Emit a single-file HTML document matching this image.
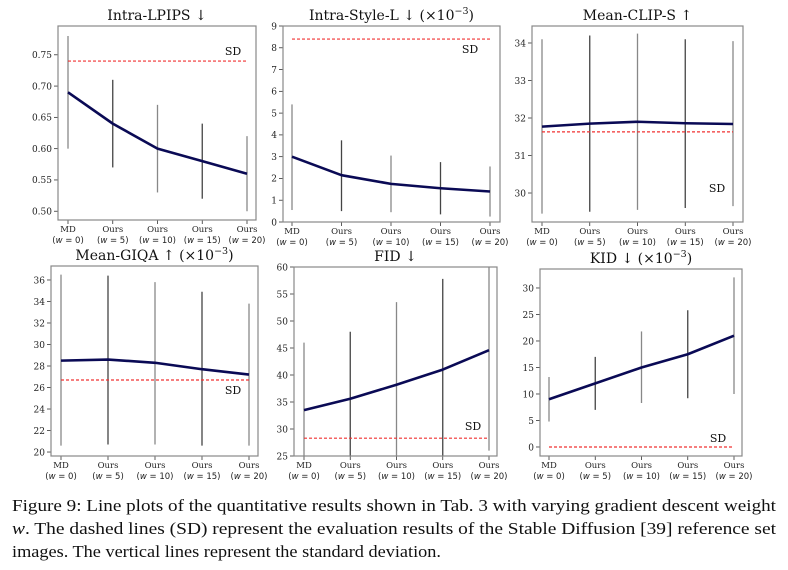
<!DOCTYPE html>
<html><head><meta charset="utf-8">
<style>
body{margin:0;background:#fff;width:788px;height:570px;overflow:hidden}
svg{display:block}
.t{font-family:"DejaVu Serif","Liberation Serif",serif;fill:#111}
.tk{font-family:"DejaVu Serif","Liberation Serif",serif;font-size:9px;fill:#222}
.xl{font-family:"DejaVu Serif","Liberation Serif",serif;font-size:8.5px;fill:#222}
.xw{font-family:"DejaVu Sans","Liberation Sans",sans-serif;font-size:8.5px;fill:#222}
.cap{font-family:"Liberation Serif",serif;font-size:17px;fill:#111}
</style></head>
<body>
<svg id="fig" width="788" height="570">
<text class="cap" x="12" y="511" textLength="764" lengthAdjust="spacingAndGlyphs">Figure 9: Line plots of the quantitative results shown in Tab. 3 with varying gradient descent weight</text>
<text class="cap" x="12" y="534" textLength="764" lengthAdjust="spacingAndGlyphs"><tspan font-style="italic">w</tspan>. The dashed lines (SD) represent the evaluation results of the Stable Diffusion [39] reference set</text>
<text class="cap" x="12" y="557" textLength="429" lengthAdjust="spacingAndGlyphs">images. The vertical lines represent the standard deviation.</text>
</svg>
<script>
const categories = ["MD","Ours","Ours","Ours","Ours"];
const weights = [0,5,10,15,20];

const lpipsVals = [0.69,0.64,0.60,0.58,0.56];
const lpipsLo = [0.60,0.57,0.53,0.52,0.50];
const lpipsHi = [0.78,0.71,0.67,0.64,0.62];
const lpipsSD = 0.74;
const lpipsTicks = [0.50,0.55,0.60,0.65,0.70,0.75];

const styleVals = [3.0,2.15,1.75,1.55,1.4];
const styleLo = [0.55,0.5,0.45,0.35,0.25];
const styleHi = [5.4,3.75,3.05,2.75,2.55];
const styleSD = 8.4;
const styleTicks = [0,1,2,3,4,5,6,7,8,9];

const clipVals = [31.77,31.85,31.9,31.86,31.84];
const clipLo = [29.45,29.5,29.55,29.6,29.65];
const clipHi = [34.1,34.2,34.25,34.1,34.05];
const clipSD = 31.63;
const clipTicks = [30,31,32,33,34];

const giqaVals = [28.5,28.6,28.3,27.7,27.2];
const giqaLo = [20.6,20.7,20.7,20.6,20.6];
const giqaHi = [36.5,36.4,35.8,34.9,33.8];
const giqaSD = 26.7;
const giqaTicks = [20,22,24,26,28,30,32,34,36];

const fidVals = [33.5,35.6,38.2,41.0,44.6];
const fidLo = [22,23,23,24,26];
const fidHi = [46,48,53.5,57.8,66];
const fidSD = 28.3;
const fidTicks = [25,30,35,40,45,50,55,60];

const kidVals = [9,12,15,17.5,21];
const kidLo = [4.8,7,8.3,9.2,10];
const kidHi = [13.2,17,21.8,25.8,32];
const kidSD = 0;
const kidTicks = [0,5,10,15,20,25,30];

const NS="http://www.w3.org/2000/svg";
const svg=document.getElementById('fig');
function mk(tag,attrs,parent){const e=document.createElementNS(NS,tag);for(const k in attrs)e.setAttribute(k,attrs[k]);(parent||svg).appendChild(e);return e;}

const panels=[
 {key:"intra-lpips",title:"Intra-LPIPS ↓",sup:"",box:[58,26,256,220],px:[68,247],dom:[0.486,0.796],vals:lpipsVals,lo:lpipsLo,hi:lpipsHi,sd:lpipsSD,ticks:lpipsTicks,fmt:v=>v.toFixed(2),sdl:[-14,-6]},
 {key:"intra-style-l",title:"Intra-Style-L ↓ (×10",sup:"−3",box:[283,26,500,222],px:[292,490],dom:[0,9],vals:styleVals,lo:styleLo,hi:styleHi,sd:styleSD,ticks:styleTicks,fmt:v=>String(v),sdl:[-20,14]},
 {key:"mean-clip-s",title:"Mean-CLIP-S ↑",sup:"",box:[532,26,743,222],px:[542,733],dom:[29.227,34.453],vals:clipVals,lo:clipLo,hi:clipHi,sd:clipSD,ticks:clipTicks,fmt:v=>String(v),sdl:[-16,60]},
 {key:"mean-giqa",title:"Mean-GIQA ↑ (×10",sup:"−3",box:[51,266,258,456],px:[61,249],dom:[19.63,37.3],vals:giqaVals,lo:giqaLo,hi:giqaHi,sd:giqaSD,ticks:giqaTicks,fmt:v=>String(v),sdl:[-16,14]},
 {key:"fid",title:"FID ↓",sup:"",box:[294,267,497,456],px:[304,489],dom:[25,60],vals:fidVals,lo:fidLo,hi:fidHi,sd:fidSD,ticks:fidTicks,fmt:v=>String(v),sdl:[-16,-8]},
 {key:"kid",title:"KID ↓ (×10",sup:"−3",box:[540,269,742,456],px:[549,734],dom:[-1.7,33.58],vals:kidVals,lo:kidLo,hi:kidHi,sd:kidSD,ticks:kidTicks,fmt:v=>String(v),sdl:[-16,-5]}
];

panels.forEach((p,pi)=>{
 const [x0,y0,x1,y1]=p.box;
 const g=mk('g',{});
 
 
 const xs=i=>p.px[0]+(p.px[1]-p.px[0])*i/(categories.length-1);
 const ys=v=>y1-(v-p.dom[0])/(p.dom[1]-p.dom[0])*(y1-y0);
 const cp='clip'+pi;
 const defs=mk('defs',{},g);
 const c=mk('clipPath',{id:cp},defs);
 mk('rect',{x:x0,y:y0,width:x1-x0,height:y1-y0},c);
 const t=mk('text',{class:'t',x:(x0+x1)/2,y:y0-6,'text-anchor':'middle','font-size':14},g);
 
 
 t.textContent=p.title;
 if(p.sup){const s=mk('tspan',{dy:-6,'font-size':9.5},t);s.textContent=p.sup;const s2=mk('tspan',{dy:6},t);s2.textContent=')';}
 p.ticks.forEach(v=>{
  const y=ys(v);
  mk('line',{x1:x0-4,x2:x0,y1:y,y2:y,stroke:'#333','stroke-width':0.8},g);
  const tl=mk('text',{class:'tk',x:x0-6,y:y+3.3,'text-anchor':'end'},g);
  
  
  tl.textContent=p.fmt(v);
 });
 categories.forEach((cat,i)=>{
  const x=xs(i);
  mk('line',{x1:x,x2:x,y1:y1,y2:y1+4,stroke:'#333','stroke-width':0.8},g);
  const l1=mk('text',{class:'xl',x:x,y:y1+12,'text-anchor':'middle'},g);
  
  
  l1.textContent=cat;
  const l2=mk('text',{class:'xw',x:x,y:y1+23,'text-anchor':'middle'},g);
  
  
  l2.textContent='(';
  const it=mk('tspan',{'font-style':'italic'},l2);it.textContent='w';
  const r=mk('tspan',{},l2);r.textContent=' = '+weights[i]+')';
 });
 const plot=mk('g',{'clip-path':'url(#'+cp+')'},g);
 p.vals.forEach((v,i)=>{
  const e=mk('line',{x1:xs(i),x2:xs(i),y1:ys(p.lo[i]),y2:ys(p.hi[i]),stroke:i%2?'#444':'#888','stroke-width':1.3},plot);
  
  
 });
 const sd=mk('line',{x1:xs(0),x2:xs(4),y1:ys(p.sd),y2:ys(p.sd),stroke:'#f03030','stroke-width':1.2,'stroke-dasharray':'3,2'},plot);
 
 
 const d=p.vals.map((v,i)=>(i?'L':'M')+xs(i)+','+ys(v)).join(' ');
 const ln=mk('path',{d:d,fill:'none',stroke:'#0a0a55','stroke-width':2.6,'stroke-linejoin':'round'},plot);
 
 
 const sl=mk('text',{class:'t','font-size':11,x:xs(4)+p.sdl[0],y:ys(p.sd)+p.sdl[1],'text-anchor':'middle'},g);
 
 
 sl.textContent='SD';
 const fr=mk('rect',{x:x0,y:y0,width:x1-x0,height:y1-y0,fill:'none',stroke:'#888','stroke-width':1.2},g);
 
 
});
</script>
</body></html>
